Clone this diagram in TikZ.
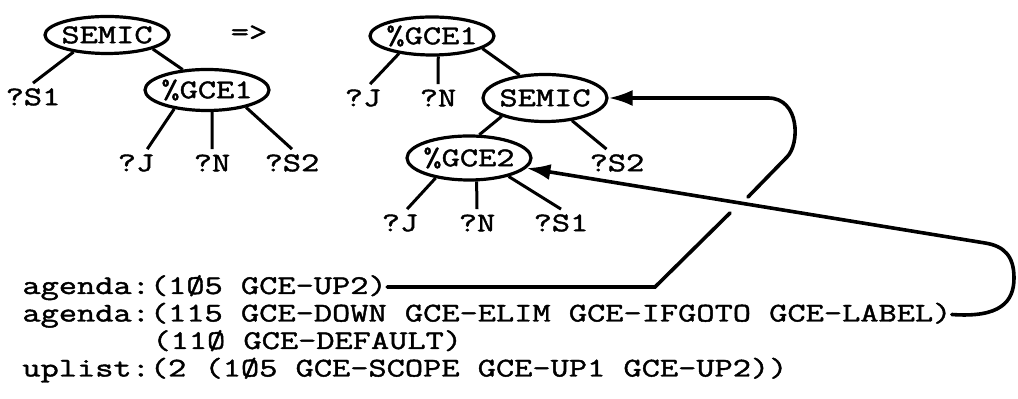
\documentclass[tikz,border=0pt]{standalone}
\usepackage{fontspec}
\setmonofont[FakeStretch=1.31,FakeBold=1.6]{Latin Modern Mono}
\usetikzlibrary{shapes.geometric,arrows.meta}
\begin{document}
\begin{tikzpicture}[x=0.5pt,y=-0.5pt,
  every node/.style={font=\ttfamily\fontsize{13.5pt}{13.3pt}\selectfont},
  tnode/.style={draw,ellipse,line width=1.6pt,inner xsep=-2pt,inner ysep=-2pt,minimum width=62pt,minimum height=20pt},
  leaf/.style={inner xsep=1pt,inner ysep=0pt,minimum height=13.5pt},
  row/.style={anchor=base west,inner sep=0pt,text height=9pt,text depth=2pt},
  edge/.style={draw,line width=1.5pt},
  link/.style={draw,line width=1.8pt,line cap=round},
  tip/.style={-{Latex[length=12pt,width=8pt]}}]
\useasboundingbox (0,0) rectangle (1018,399);

\node[tnode,minimum height=18.5pt] (semA) at (107,35) {SEMIC};
\node[leaf] (s1A) at (33,97) {?S1};
\node[tnode,minimum height=20.5pt] (gceA) at (207,90) {\%GCE1};
\node[leaf] (jA) at (136,163) {?J};
\node[leaf] (nA) at (212,163) {?N};
\node[leaf] (s2A) at (292,163) {?S2};
\path[edge] (semA.207) -- (s1A.north);
\path[edge] (semA.343) -- (gceA.140);
\path[edge] (gceA.210) -- (jA.51);
\path[edge] (gceA.283) -- (nA.north);
\path[edge] (gceA.336) -- (s2A.north);

\node (impl) at (249,33) {=>};

\node[tnode,minimum height=19pt] (gceB) at (432,36) {\%GCE1};
\node[leaf] (jB) at (363,98) {?J};
\node[leaf] (nB) at (438,98) {?N};
\node[tnode,minimum height=23.5pt] (semB) at (545,98) {SEMIC};
\node[leaf] (s2B) at (617,163) {?S2};
\node[tnode,minimum height=22pt] (gceC) at (469,158) {\%GCE2};
\node[leaf] (jC) at (400,223) {?J};
\node[leaf] (nC) at (477,223) {?N};
\node[leaf] (s1C) at (561,223) {?S1};
\path[edge] (gceB.208) -- (jB.63);
\path[edge] (gceB.287) -- (nB.north);
\path[edge] (gceB.346) -- (semB.138);
\path[edge] (semB.203) -- (gceC.66);
\path[edge] (semB.320) -- (s2B.127);
\path[edge] (gceC.211) -- (jC.63);
\path[edge] (gceC.288) -- (nC.north);
\path[edge] (gceC.335) -- (s1C.north);

\node[row] (ag1) at (22,294) {agenda:(1Ø5 GCE-UP2)};
\node[row] (ag2) at (22,321.5) {agenda:(115 GCE-DOWN GCE-ELIM GCE-IFGOTO GCE-LABEL)};
\node[row] (ag3) at (152,349) {(11Ø GCE-DEFAULT)};
\node[row] (up) at (22,376.5) {uplist:(2 (1Ø5 GCE-SCOPE GCE-UP1 GCE-UP2))};

\coordinate (bend1) at (655,287);
\coordinate (cut1) at (730,213);
\coordinate (cut2) at (748,197);
\coordinate (loop1) at (787,157);
\path[link] (ag1.east) -- (ag1.east -| bend1) -- (cut1);
\path[link,tip] (cut2) -- (loop1) .. controls (800,144) and (800,98) .. (768,98) -- (semB.east);

\coordinate (loop2) at (985,243);
\path[link,tip] (ag2.east) .. controls (1000,318) and (1014,302) .. (1014,278)
  .. controls (1014,256) and (1004,246) .. (loop2) -- (gceC.-10);
\end{tikzpicture}
\end{document}
